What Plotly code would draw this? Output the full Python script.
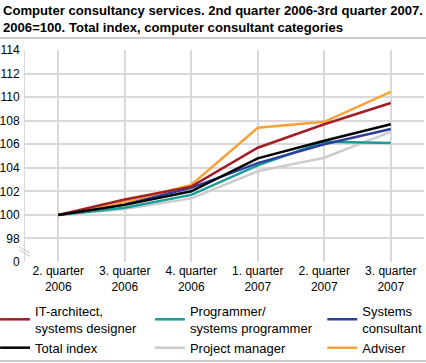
import plotly.graph_objects as go

categories = ["2. quarter<br>2006", "3. quarter<br>2006", "4. quarter<br>2006",
              "1. quarter<br>2007", "2. quarter<br>2007", "3. quarter<br>2007"]

it_architect = [100, 101.3, 102.4, 105.7, 107.7, 109.5]
programmer = [100, 100.6, 101.7, 104.2, 106.2, 106.1]
systems_consultant = [100, 100.9, 102.3, 104.4, 106.0, 107.3]
total_index = [100, 100.85, 102.0, 104.8, 106.3, 107.7]
project_manager = [100, 100.5, 101.4, 103.7, 104.85, 107.05]
adviser = [100, 101.1, 102.55, 107.4, 107.9, 110.45]

y_tickvals = [96, 98, 100, 102, 104, 106, 108, 110, 112, 114]
y_ticktext = ["0", "98", "100", "102", "104", "106", "108", "110", "112", "114"]

series = [
    ("Project manager", project_manager, "#cccccc", "legend2"),
    ("Programmer/<br>systems programmer", programmer, "#1a9c98", "legend2"),
    ("Systems<br>consultant", systems_consultant, "#2b3f9b", "legend3"),
    ("Adviser", adviser, "#f7a136", "legend3"),
    ("IT-architect,<br>systems designer", it_architect, "#a01e25", "legend"),
    ("Total index", total_index, "#000000", "legend"),
]
legend_rank = {"IT-architect,<br>systems designer": 1, "Total index": 2,
               "Programmer/<br>systems programmer": 1, "Project manager": 2,
               "Systems<br>consultant": 1, "Adviser": 2}

FONT = "Liberation Sans"

fig = go.Figure()
for name, vals, color, leg in series:
    fig.add_trace(go.Scatter(
        x=categories, y=vals, name=name, mode="lines",
        line=dict(color=color, width=2.5),
        legend=leg, legendrank=legend_rank[name],
    ))

legend_common = dict(orientation="v", yanchor="top", xanchor="left",
                     bgcolor="rgba(0,0,0,0)", font=dict(size=13, color="#000", family=FONT),
                     itemwidth=30, tracegroupgap=0)

fig.update_layout(
    width=426, height=363,
    margin=dict(l=25, r=2, t=50, b=101, autoexpand=False),
    paper_bgcolor="white", plot_bgcolor="white",
    font=dict(family=FONT, size=12, color="#000"),
    xaxis=dict(
        type="category", range=[-0.5, 5.5], automargin=False,
        showgrid=True, gridcolor="#d9d9d9", gridwidth=1.5,
        showline=False, ticks="", tickfont=dict(size=12, color="#000", family=FONT),
        fixedrange=True,
    ),
    yaxis=dict(
        range=[96, 114], tickvals=y_tickvals, ticktext=y_ticktext, automargin=False,
        showgrid=True, gridcolor="#d9d9d9", gridwidth=1.5,
        showline=True, linecolor="#d9d9d9", linewidth=1,
        zeroline=False, ticks="", tickfont=dict(size=12, color="#000", family=FONT),
        ticklabelstandoff=2,
    ),
    legend=dict(x=-0.075, y=-0.16, **legend_common),
    legend2=dict(x=0.313, y=-0.16, **legend_common),
    legend3=dict(x=0.745, y=-0.16, **legend_common),
    showlegend=True,
)

fig.add_annotation(
    text="<b>Computer consultancy services. 2nd quarter 2006-3rd quarter 2007.<br>2006=100. Total index, computer consultant categories</b>",
    xref="paper", yref="paper", x=(1-25)/399, y=(262-1)/212,
    xanchor="left", yanchor="top", align="left", showarrow=False,
    font=dict(size=13.1, color="#000", family=FONT),
)

# title rule and bottom rule
fig.add_shape(type="line", xref="paper", yref="paper",
              x0=-25/399, x1=1 + 2/399, y0=(262-38)/212, y1=(262-38)/212,
              line=dict(color="#bbbbbb", width=1.5))
fig.add_shape(type="line", xref="paper", yref="paper",
              x0=-25/399, x1=1 + 2/399, y0=(262-361)/212, y1=(262-361)/212,
              line=dict(color="#bbbbbb", width=1.5))
# axis break marks
for off in (0, 3):
    fig.add_shape(type="line", xref="paper", yref="paper",
                  x0=(19-25)/399, x1=(30-25)/399,
                  y0=(262-(247+off))/212, y1=(262-(253+off))/212,
                  line=dict(color="#c8c8c8", width=1))

fig.write_html("out.html", config={"displayModeBar": False},
               post_script="document.body.style.margin='0';")
